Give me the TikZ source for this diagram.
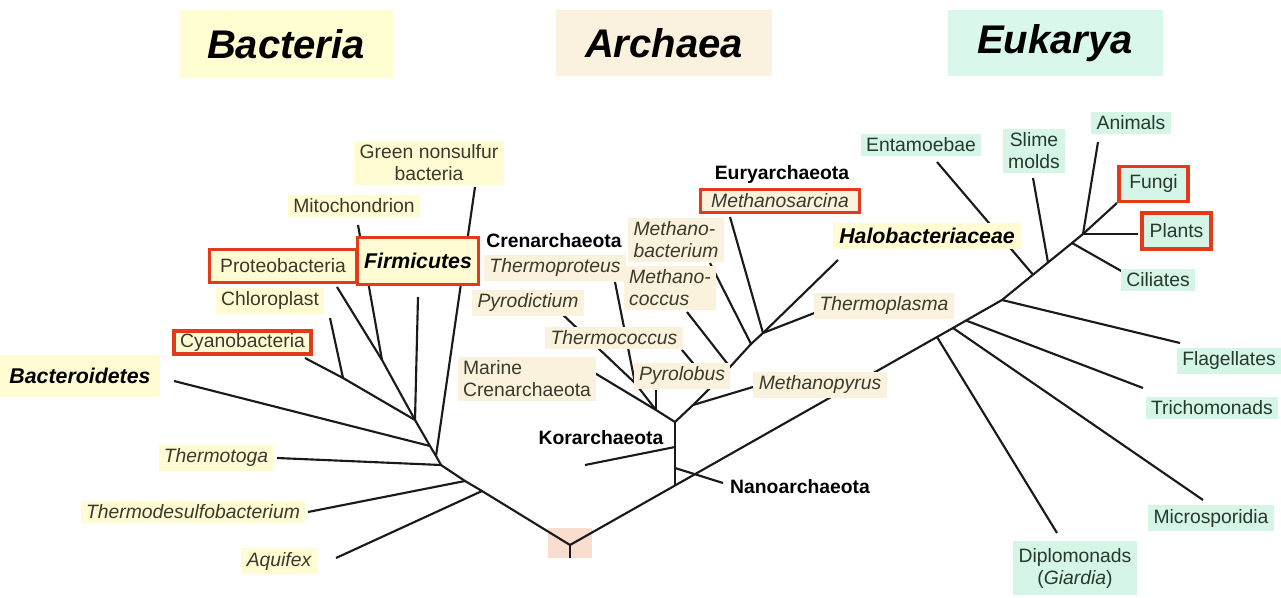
\documentclass[tikz,border=0pt]{standalone}
\usepackage{fontspec}
\setmainfont{Liberation Sans}
\usetikzlibrary{backgrounds}
\definecolor{bY}{HTML}{FFFCD4}
\definecolor{bHead}{HTML}{FFFDD2}
\definecolor{aB}{HTML}{FAF2DC}
\definecolor{aHead}{HTML}{FBF1DF}
\definecolor{eM}{HTML}{D5F5E7}
\definecolor{eHead}{HTML}{D9F7EB}
\definecolor{redc}{HTML}{E5391B}
\definecolor{peach}{HTML}{F9DED0}
\definecolor{linec}{HTML}{1A1A1A}
\definecolor{txt}{HTML}{3A3A2C}
\definecolor{etxt}{HTML}{27382D}
\newcommand\labsize{\fontsize{14.5}{16.5}\selectfont}
\tikzset{
  branch/.style={draw=linec, line width=1.6pt},
  lab/.style={font=\labsize, text=txt, inner xsep=4pt, inner ysep=3pt},
  blab/.style={lab, fill=bY},
  alab/.style={lab, fill=aB},
  elab/.style={lab, fill=eM, text=etxt},
  ital/.style={font=\labsize\itshape},
  boldlab/.style={font=\labsize\bfseries, text=black, inner sep=2pt},
  bilab/.style={font=\fontsize{16}{18}\selectfont\bfseries\itshape, text=black, inner xsep=5pt, inner ysep=4pt},
  redbox/.style={draw=redc, line width=2.6pt},
  heading/.style={font=\fontsize{30}{34}\selectfont\bfseries\itshape, text=black, inner sep=0pt}
}
\begin{document}
\begin{tikzpicture}[x=0.75pt,y=-0.75pt]
\useasboundingbox (0,0) rectangle (1281,598);

% ---------- headings ----------
\node[heading, fill=bHead, minimum width=159.75pt, minimum height=51pt] (hBac) at (286,44) {Bacteria};
\node[heading, fill=aHead, minimum width=162pt, minimum height=49.5pt] (hArc) at (664,43) {Archaea};
\node[heading, fill=eHead, minimum width=161.25pt, minimum height=49.5pt] (hEuk) at (1055,43) {Eukarya};

% ---------- bacteria labels ----------
\node[blab, align=center] (lGns) at (429,163) {Green nonsulfur\\bacteria};
\node[blab] (lMit) at (354,206) {Mitochondrion};
\node[blab, redbox, minimum width=110pt, minimum height=25pt] (lPro) at (283,266) {Proteobacteria};
\node[bilab, fill=bY, redbox, minimum width=87pt, minimum height=35pt] (lFir) at (418,261) {Firmicutes};
\node[blab] (lChl) at (270,301) {Chloroplast};
\node[blab, redbox, minimum width=103pt, minimum height=17pt, inner ysep=1pt] (lCya) at (242.5,342.5) {Cyanobacteria};
\node[bilab, fill=bY, minimum width=120pt, minimum height=32pt] (lBac) at (80,376) {Bacteroidetes};
\node[blab, ital] (lTtg) at (216,458) {Thermotoga};
\node[blab, ital] (lTds) at (193,512) {Thermodesulfobacterium};
\node[blab, ital] (lAqu) at (279,561) {Aquifex};

% ---------- archaea labels ----------
\node[boldlab] (lCre) at (554,241) {Crenarchaeota};
\node[alab, ital] (lThp) at (555,268) {Thermoproteus};
\node[alab, ital] (lPyd) at (528,303) {Pyrodictium};
\node[alab, ital] (lTcc) at (614,338) {Thermococcus};
\node[alab, align=left] (lMar) at (527,379) {Marine\\Crenarchaeota};
\node[alab, ital] (lPyl) at (682,376) {Pyrolobus};
\node[alab, ital] (lMpy) at (820,385) {Methanopyrus};
\node[boldlab] (lKor) at (601,438) {Korarchaeota};
\node[boldlab] (lNan) at (800,487) {Nanoarchaeota};
\node[alab, ital, align=left] (lMba) at (676,240) {Methano-\\bacterium};
\node[alab, ital, align=left] (lMcc) at (670,288) {Methano-\\coccus};
\node[boldlab] (lEur) at (782,175) {Euryarchaeota};
\node[alab, ital, redbox, minimum width=119pt, minimum height=17pt, inner ysep=1pt] (lMsa) at (780,201) {Methanosarcina};
\node[bilab, fill=bY] (lHal) at (927,236) {Halobacteriaceae};
\node[alab, ital] (lTpl) at (884,306) {Thermoplasma};

% ---------- eukarya labels ----------
\node[elab] (lEnt) at (921,145) {Entamoebae};
\node[elab, align=center] (lSli) at (1034,151) {Slime\\molds};
\node[elab] (lAni) at (1131,123) {Animals};
\node[elab, redbox, minimum width=52pt, minimum height=26pt] (lFun) at (1153.5,184) {Fungi};
\node[elab, redbox, minimum width=52pt, minimum height=27pt] (lPla) at (1176.5,231) {Plants};
\node[elab] (lCil) at (1158,280) {Ciliates};
\node[elab] (lFla) at (1229,361) {Flagellates};
\node[elab] (lTri) at (1212,408) {Trichomonads};
\node[elab] (lMic) at (1211,518) {Microsporidia};
\node[elab, align=center, inner ysep=5pt] (lDip) at (1075,568) {Diplomonads\\(\textit{Giardia})};

% ---------- tree coordinates ----------
\coordinate (R) at (570,545);
\coordinate (Rs) at (570,558);
% bacteria
\coordinate (bA) at (482,491);
\coordinate (bT) at (465,481);
\coordinate (b4) at (441,465);
\coordinate (b3) at (436,456);
\coordinate (b2) at (430,446);
\coordinate (b1) at (415,420);
\coordinate (bM) at (382,360);
\coordinate (bC) at (343,378);
\coordinate (tAqu) at (336,558);
\coordinate (tTds) at (308,512);
\coordinate (tTtg) at (277,458);
\coordinate (tGns) at (475,187);
\coordinate (tBac) at (174,381);
\coordinate (tPro) at (337,287);
\coordinate (tMit) at (358,225);
\coordinate (tFir) at (418,297);
\coordinate (tCya) at (305,358);
\coordinate (tChl) at (330,318);
% archaea
\coordinate (aJ) at (675,485.5);
\coordinate (aN) at (675,468);
\coordinate (aK) at (675,447);
\coordinate (a0) at (675,422);
\coordinate (aC2) at (656,410);
\coordinate (aC1) at (635,383);
\coordinate (aR) at (693,405);
\coordinate (aT) at (712,386);
\coordinate (eu3) at (730,367);
\coordinate (eu2) at (751,344);
\coordinate (eu1) at (763,333);
\coordinate (tNan) at (723,483);
\coordinate (tKor) at (585,465);
\coordinate (tMar) at (593,372);
\coordinate (tPyd) at (561,313);
\coordinate (tThp) at (615,282);
\coordinate (tPyl) at (656,390);
\coordinate (tMpy) at (753,387);
\coordinate (tTcc) at (682,350);
\coordinate (tMcc) at (687,312);
\coordinate (tMba) at (710,263);
\coordinate (tMsa) at (730,217);
\coordinate (tHal) at (838,260);
\coordinate (tTpl) at (817,312);
% eukarya
\coordinate (eD) at (937,337);
\coordinate (eMi) at (953,328);
\coordinate (eTr) at (966,320.5);
\coordinate (eF) at (1002,300);
\coordinate (eE) at (1033,274.7);
\coordinate (eS) at (1048,262.5);
\coordinate (eC) at (1072,243);
\coordinate (eA) at (1083,234);
\coordinate (tDip) at (1057,533);
\coordinate (tMic) at (1203,500);
\coordinate (tTri) at (1143,388);
\coordinate (tFla) at (1180,343);
\coordinate (tEnt) at (937,162);
\coordinate (tSli) at (1033,178);
\coordinate (tCil) at (1123,272);
\coordinate (tAni) at (1098,142);
\coordinate (tFun) at (1117,203);
\coordinate (tPla) at (1138,234);

\begin{pgfonlayer}{background}
\node[fill=peach, minimum width=33pt, minimum height=22.5pt, inner sep=0pt] (rootbox) at (570,543) {};
% root
\draw[branch] (R) -- (Rs);
% bacteria
\draw[branch] (R) -- (bA) -- (bT) -- (b4) -- (b3) -- (b2) -- (b1);
\draw[branch] (bA) -- (tAqu);
\draw[branch] (bT) -- (tTds);
\draw[branch] (b4) -- (tTtg);
\draw[branch] (b3) -- (tGns);
\draw[branch] (b2) -- (tBac);
\draw[branch] (b1) -- (bM) -- (tPro);
\draw[branch] (bM) -- (tMit);
\draw[branch] (b1) -- (tFir);
\draw[branch] (b1) -- (bC) -- (tCya);
\draw[branch] (bC) -- (tChl);
% main backbone to eukarya
\draw[branch] (R) -- (aJ) -- (eD) -- (eMi) -- (eTr) -- (eF) -- (eE) -- (eS) -- (eC) -- (eA);
% archaea
\draw[branch] (aJ) -- (aN) -- (aK) -- (a0);
\draw[branch] (aN) -- (tNan);
\draw[branch] (aK) -- (tKor);
\draw[branch] (a0) -- (aC2) -- (tMar);
\draw[branch] (aC2) -- (aC1);
\draw[branch] (aC1) -- (tPyd);
\draw[branch] (aC1) -- (tThp);
\draw[branch] (aC2) -- (tPyl);
\draw[branch] (a0) -- (aR) -- (aT) -- (eu3) -- (eu2) -- (eu1);
\draw[branch] (aR) -- (tMpy);
\draw[branch] (aT) -- (tTcc);
\draw[branch] (eu3) -- (tMcc);
\draw[branch] (eu2) -- (tMba);
\draw[branch] (eu1) -- (tMsa);
\draw[branch] (eu1) -- (tHal);
\draw[branch] (eu1) -- (tTpl);
% eukarya
\draw[branch] (eD) -- (tDip);
\draw[branch] (eMi) -- (tMic);
\draw[branch] (eTr) -- (tTri);
\draw[branch] (eF) -- (tFla);
\draw[branch] (eE) -- (tEnt);
\draw[branch] (eS) -- (tSli);
\draw[branch] (eC) -- (tCil);
\draw[branch] (eA) -- (tAni);
\draw[branch] (eA) -- (tFun);
\draw[branch] (eA) -- (tPla);
\end{pgfonlayer}
\end{tikzpicture}
\end{document}
